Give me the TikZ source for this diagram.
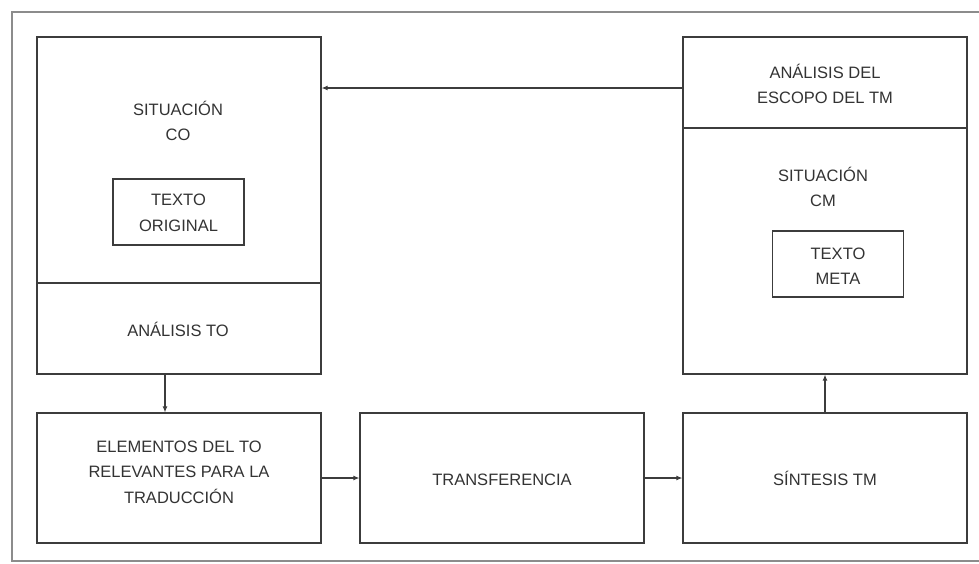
\documentclass[tikz,border=0pt]{standalone}
\usepackage{fontspec}
\setmainfont{Liberation Sans}
\usetikzlibrary{arrows.meta}

\definecolor{framegray}{HTML}{8C8C8C}
\definecolor{boxgray}{HTML}{3C3C3C}
\definecolor{textgray}{HTML}{333333}

\begin{document}
\begin{tikzpicture}[x=1pt,y=-1pt,
    box/.style={draw=boxgray, line width=1.2pt, inner sep=0pt,
        minimum width=284pt, minimum height=#1},
    box/.default=130pt,
    smallbox/.style={draw=boxgray, line width=1.2pt, inner sep=0pt,
        minimum width=131pt, minimum height=66pt},
    lbl/.style={align=center, text=textgray,
        font=\fontsize{16.5}{25.5}\selectfont},
    arr/.style={draw=boxgray, line width=1.1pt, -{Latex[length=6pt,width=5pt]}}]
                \useasboundingbox (0,0) rectangle (979,563);

                % Outer frame
                \draw[framegray, line width=1.8pt] (12,12) rectangle (995,561);

                % Left column
                \node[box=246pt] (sitco) at (179,160) {};
                \node[box=91pt] (analisisto) at (179,328.5) {};
                \node[smallbox] (original) at (178.5,212) {};
                \node[box] (elementos) at (179,478) {};

                % Middle
                \node[box] (transfer) at (502,478) {};

                % Right column
                \node[box=91pt] (escopo) at (825,82.5) {};
                \node[box=246pt] (sitcm) at (825,251) {};
                \node[smallbox] (meta) at (838,264) {};
                \node[box] (sintesis) at (825,478) {};

                % Labels
                \node[lbl] (sitcolbl) at (178,121) {SITUACIÓN\\CO};
                \node[lbl] (origlbl) at (178.5,213) {TEXTO\\ORIGINAL};
                \node[lbl] (analbl) at (178,329) {ANÁLISIS TO};
                \node[lbl] (elemlbl) at (179,472) {ELEMENTOS DEL TO\\RELEVANTES PARA LA\\TRADUCCIÓN};
                \node[lbl] (translbl) at (502,480) {TRANSFERENCIA};
                \node[lbl] (escopolbl) at (825,84) {ANÁLISIS DEL\\ESCOPO DEL TM};
                \node[lbl] (sitcmlbl) at (823,187) {SITUACIÓN\\CM};
                \node[lbl] (metalbl) at (838,266) {TEXTO\\META};
                \node[lbl] (sintlbl) at (825,478) {SÍNTESIS TM};

                % Connectors
                \draw[arr] ([yshift=-5.5pt]escopo.west) -- ([yshift=-5.5pt]escopo.west -| sitco.east);
                \draw[arr] ([xshift=-14pt]analisisto.south) -- ([xshift=-14pt]elementos.north);
                \draw[arr] (elementos.east) -- (transfer.west);
                \draw[arr] (transfer.east) -- (sintesis.west);
                \draw[arr] (sintesis.north) -- (sitcm.south);
            \end{tikzpicture}
\end{document}
